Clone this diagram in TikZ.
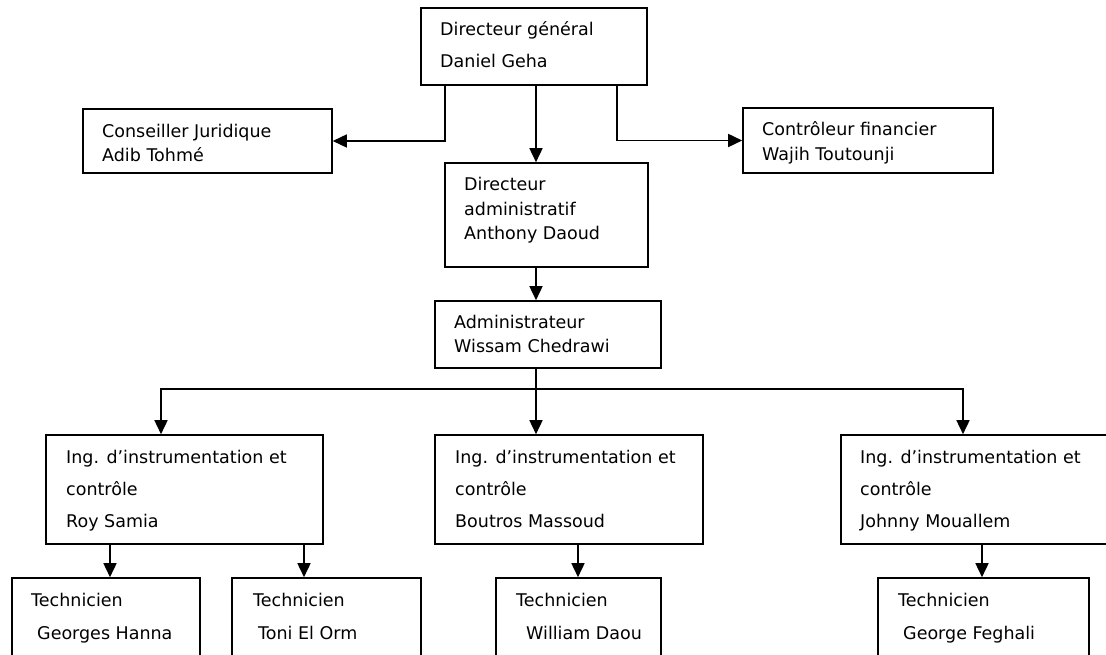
\documentclass[tikz,border=0pt]{standalone}
\usepackage{fontspec}
\setmainfont{DejaVu Sans}
\usetikzlibrary{arrows.meta,fit}
\tikzset{
  box/.style={draw, line width=1.6pt, inner sep=0pt, rectangle},
  txt/.style={anchor=base west, inner sep=0pt, font=\fontsize{17.5}{20}\selectfont},
  arr/.style={line width=1.6pt, -{Triangle[length=14pt,width=13pt]}},
  ln/.style={line width=1.6pt}
}
\begin{document}
\begin{tikzpicture}[x=1pt,y=-1pt]
\useasboundingbox (0,0) rectangle (1106,655);
\clip (0,0) rectangle (1106,655);
\fill[white] (0,0) rectangle (1106,655);
% boxes
\node[box, fit={(421,8) (647,85)}] (dg) {};
\node[box, fit={(83,109) (332,173)}] (cj) {};
\node[box, fit={(743,108) (993,173)}] (cf) {};
\node[box, fit={(445,163) (648,267)}] (da) {};
\node[box, fit={(435,301) (661,368)}] (ad) {};
\node[box, fit={(46,435) (323,544)}] (i1) {};
\node[box, fit={(435,435) (703,544)}] (i2) {};
\node[box, fit={(841,435) (1120,544)}] (i3) {};
\node[box, fit={(12,578) (200,670)}] (t1) {};
\node[box, fit={(232,578) (421,670)}] (t2) {};
\node[box, fit={(496,578) (661,670)}] (t3) {};
\node[box, fit={(878,578) (1089,670)}] (t4) {};
% texts
\node[txt] (dg1) at (440,36) {Directeur général};
\node[txt] (dg2) at (440,68) {Daniel Geha};
\node[txt] (cj1) at (102,138) {Conseiller Juridique};
\node[txt] (cj2) at (102,162) {Adib Tohmé};
\node[txt] (cf1) at (762,136) {Contrôleur financier};
\node[txt] (cf2) at (762,161) {Wajih Toutounji};
\node[txt] (da1) at (464,191) {Directeur};
\node[txt] (da2) at (464,216) {administratif};
\node[txt] (da3) at (464,240) {Anthony Daoud};
\node[txt] (ad1) at (454,328) {Administrateur};
\node[txt] (ad2) at (454,352) {Wissam Chedrawi};
\node[txt] (i11) at (66,463) {Ing. d’instrumentation et};
\node[txt] (i12) at (66,495) {contrôle};
\node[txt] (i13) at (66,527) {Roy Samia};
\node[txt] (i21) at (455,463) {Ing. d’instrumentation et};
\node[txt] (i22) at (455,495) {contrôle};
\node[txt] (i23) at (455,527) {Boutros Massoud};
\node[txt] (i31) at (860,463) {Ing. d’instrumentation et};
\node[txt] (i32) at (860,495) {contrôle};
\node[txt] (i33) at (860,527) {Johnny Mouallem};
\node[txt] (t11) at (31,606) {Technicien};
\node[txt] (t12) at (37,639) {Georges Hanna};
\node[txt] (t21) at (253,606) {Technicien};
\node[txt] (t22) at (258,639) {Toni El Orm};
\node[txt] (t31) at (516,606) {Technicien};
\node[txt] (t32) at (526,639) {William Daou};
\node[txt] (t41) at (898,606) {Technicien};
\node[txt] (t42) at (903,639) {George Feghali};
% connector guide coordinates
\coordinate (xl) at (445,0);
\coordinate (xc) at (536,0);
\coordinate (xr) at (617,0);
\coordinate (bus) at (536,389);
\coordinate (bl) at (161,389);
\coordinate (br) at (963,389);
\coordinate (x11) at (110,0);
\coordinate (x12) at (304,0);
\coordinate (x2) at (578,0);
\coordinate (x3) at (982,0);
% connectors
\draw[arr] (dg.south -| xl) |- (cj.east);
\draw[arr] (dg.south -| xc) -- (da.north -| xc);
\draw[arr] (dg.south -| xr) |- (cf.west);
\draw[arr] (da.south -| xc) -- (ad.north -| xc);
\draw[arr] (ad.south -| xc) -- (i2.north -| xc);
\draw[arr] (bus) -- (bl) -- (i1.north -| bl);
\draw[arr] (bus) -- (br) -- (i3.north -| br);
\draw[arr] (i1.south -| x11) -- (t1.north -| x11);
\draw[arr] (i1.south -| x12) -- (t2.north -| x12);
\draw[arr] (i2.south -| x2) -- (t3.north -| x2);
\draw[arr] (i3.south -| x3) -- (t4.north -| x3);
\end{tikzpicture}
\end{document}
